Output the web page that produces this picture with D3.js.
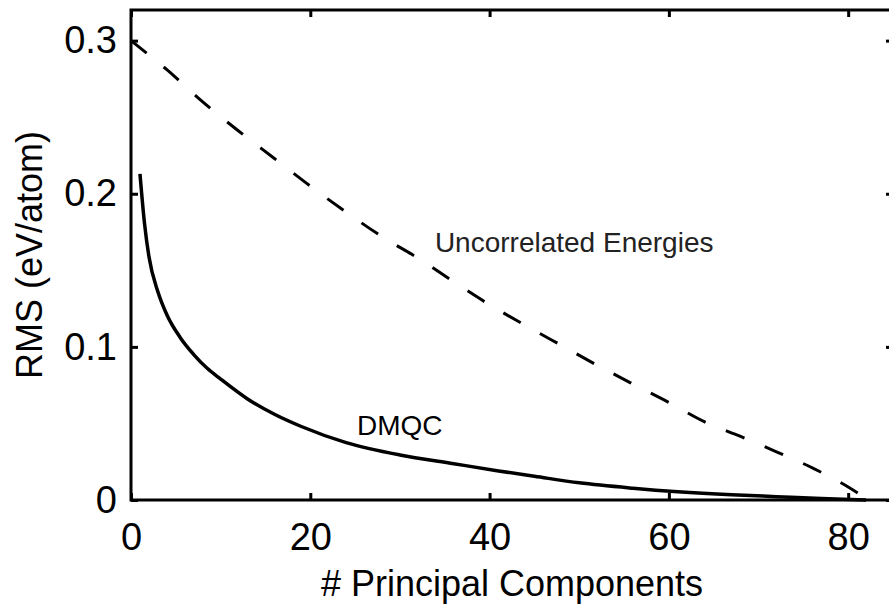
<!DOCTYPE html>
<meta charset="utf-8">
<style>
body { margin: 0; background: #fff; }
text { font-family: "Liberation Sans", Arial, Helvetica, sans-serif; fill: #000; }
.tick text { font-size: 38px; }
.axis-title { font-size: 36px; }
.note { font-size: 28px; }
</style>
<svg width="889" height="604"></svg>
<script src="https://d3js.org/d3.v7.min.js"></script>
<script>

// DMQC curve
var dmqcX = [1, 1.5, 2, 3, 4, 5.5, 7, 8.5, 10, 13, 16, 19, 24, 30, 36, 41, 45, 50, 56, 61, 67, 72, 77, 82];
var dmqcY = [0.213, 0.181, 0.159, 0.136, 0.121, 0.106, 0.095, 0.086, 0.079, 0.066, 0.056, 0.048,
             0.0375, 0.0294, 0.0237, 0.019, 0.0155, 0.0112, 0.0077, 0.0054, 0.0034, 0.0022, 0.001, 0.0];

// uncorrelated energies (dashed)
var uncorrX = [0, 4, 8, 12, 16, 20, 24, 28, 32, 36, 40, 44, 48, 52, 56, 60, 64, 68, 72, 76, 80, 81.5];
var uncorrY = [0.300, 0.281, 0.260, 0.241, 0.223, 0.205, 0.188, 0.172, 0.158, 0.1425, 0.1275, 0.114,
               0.101, 0.088, 0.0757, 0.0637, 0.051, 0.0415, 0.0315, 0.021, 0.0085, 0.003];

var xTicks = [0, 20, 40, 60, 80];
var yTicks = [0, 0.1, 0.2, 0.3];

var svg = d3.select("svg");

var x = d3.scaleLinear().domain([0, 85]).range([131, 893]);
var y = d3.scaleLinear().domain([0, 0.32]).range([500, 10]);

var fmt = function(d) { return d === 0 ? "0" : d3.format(".1f")(d); };

// axes, ticks pointing inward
var gx = svg.append("g").attr("transform", "translate(0,500)")
  .call(d3.axisBottom(x).tickValues(xTicks).tickSize(-7).tickPadding(23));
var gy = svg.append("g").attr("transform", "translate(131,0)")
  .call(d3.axisLeft(y).tickValues(yTicks).tickSize(-7).tickPadding(14).tickFormat(fmt));
var gt = svg.append("g").attr("transform", "translate(0,10)")
  .call(d3.axisTop(x).tickValues(xTicks).tickSize(-7).tickFormat(""));
var gr = svg.append("g").attr("transform", "translate(893,0)")
  .call(d3.axisRight(y).tickValues(yTicks).tickSize(-7).tickFormat(""));

[gx, gy, gt, gr].forEach(function(g) {
  g.select(".domain").remove();
  g.selectAll(".tick line").attr("stroke", "#000").attr("stroke-width", 3);
  g.selectAll(".tick text").attr("fill", "#000");
});

// frame
svg.append("rect")
  .attr("x", x(0)).attr("y", y(0.32))
  .attr("width", x(85) - x(0)).attr("height", y(0) - y(0.32))
  .attr("fill", "none").attr("stroke", "#000").attr("stroke-width", 3);

var line = d3.line()
  .x(function(d) { return x(d[0]); })
  .y(function(d) { return y(d[1]); })
  .curve(d3.curveMonotoneX);

svg.append("path")
  .datum(d3.zip(uncorrX, uncorrY))
  .attr("d", line)
  .attr("fill", "none").attr("stroke", "#000").attr("stroke-width", 3)
  .attr("stroke-dasharray", "20,22");

svg.append("path")
  .datum(d3.zip(dmqcX, dmqcY))
  .attr("d", line)
  .attr("fill", "none").attr("stroke", "#000").attr("stroke-width", 3.5);

// labels
svg.append("text").attr("class", "note")
  .attr("x", x(33.9)).attr("y", y(0.162))
  .style("fill", "#222")
  .text("Uncorrelated Energies");

svg.append("text").attr("class", "note")
  .attr("x", x(25.2)).attr("y", y(0.0425))
  .text("DMQC");

svg.append("text").attr("class", "axis-title")
  .attr("x", 512).attr("y", 596)
  .attr("text-anchor", "middle")
  .text("# Principal Components");

svg.append("text").attr("class", "axis-title")
  .attr("transform", "translate(42,255) rotate(-90)")
  .attr("text-anchor", "middle")
  .text("RMS (eV/atom)");

</script>
